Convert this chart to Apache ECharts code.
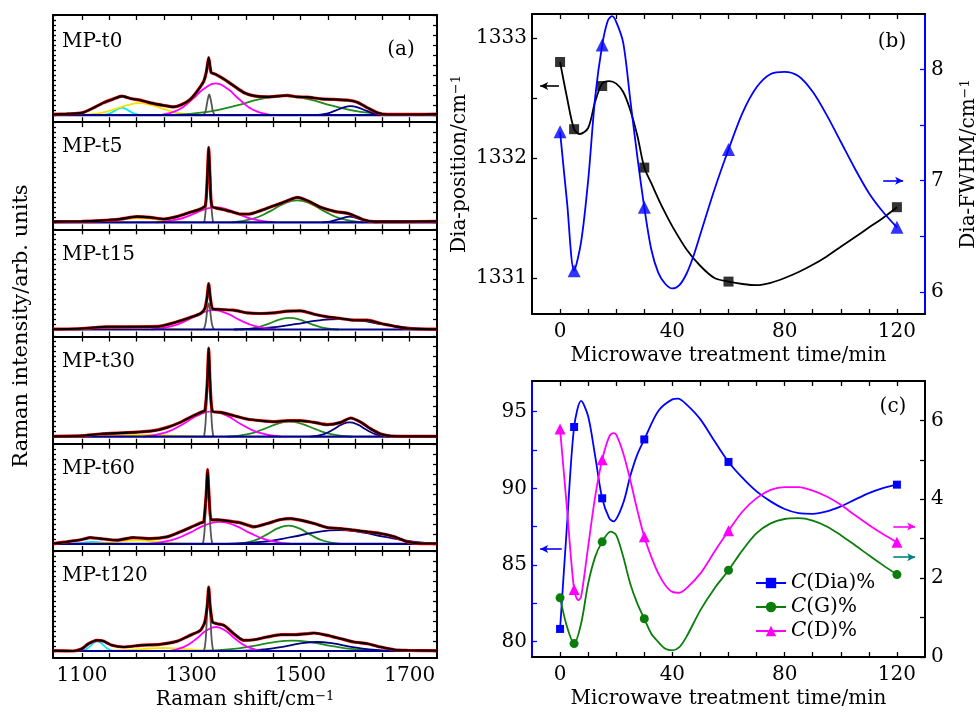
<!DOCTYPE html>
<html><head><meta charset="utf-8">
<script src="https://cdn.jsdelivr.net/npm/echarts@6/dist/echarts.min.js"></script>
<style>html,body{margin:0;padding:0;background:#fff}#c{width:980px;height:712px}</style>
</head><body><div id="c"></div><script>
// ---------------- Panel (a): Raman spectra ----------------
const panelNames = ['MP-t0','MP-t5','MP-t15','MP-t30','MP-t60','MP-t120'];
const ramanTicks = [1100,1150,1200,1250,1300,1350,1400,1450,1500,1550,1600,1650,1700];
const ramanLabels = [1100,1300,1500,1700];

const spec_t0 = [[1047,0.7],[1072,1.3],[1100,2.3],[1121,7.3],[1139,12.3],[1158,16.3],[1173,19],[1188,16.7],[1207,15],[1225,12.3],[1250,9.7],[1268,8.3],[1283,10.7],[1298,15.7],[1311,24],[1323,34],[1328,44],[1332,57.5],[1336.5,42.7],[1344,41],[1360,36],[1378,29.3],[1396,22.7],[1415,19.3],[1439,18.3],[1458,19],[1476,19.7],[1494,18.3],[1513,18],[1537,16.3],[1562,15.7],[1586,15],[1604,13],[1623,7.3],[1641,2.3],[1659,0.7],[1684,0.7],[1715,0.7],[1750,1]];
const spec_t5 = [[1047,0.7],[1100,1],[1133,1.7],[1170,3.3],[1201,5.7],[1225,5],[1250,3.3],[1274,5.7],[1298,10],[1317,13.3],[1326,17],[1329.5,45],[1332,75],[1334.5,45],[1338,16],[1354,13.3],[1372,11],[1390,8.3],[1406,8.3],[1427,11.7],[1452,16.7],[1476,21.7],[1494,25],[1513,21.7],[1537,15],[1562,11],[1586,9],[1598,6.7],[1617,2.3],[1635,0.7],[1684,0.7],[1750,1]];
const spec_t15 = [[1047,0.3],[1100,1],[1146,2.7],[1194,2.7],[1243,3.3],[1274,7.7],[1298,12],[1317,16],[1325,21],[1329,32],[1332,46],[1335,32],[1339,21],[1354,20],[1378,19.3],[1402,16.7],[1427,16],[1452,16.7],[1476,18.3],[1500,18.7],[1525,15.3],[1549,12.7],[1574,11],[1598,9.3],[1623,9.3],[1647,6],[1672,3.3],[1696,1],[1750,0.3]];
const spec_t30 = [[1047,0.3],[1100,1],[1133,2.7],[1194,4.3],[1231,6],[1256,9.3],[1280,14.3],[1304,21],[1318,24.5],[1325,26],[1329.5,55],[1332,88.7],[1334.5,55],[1339,25.3],[1354,24.3],[1378,21],[1402,17.7],[1427,16],[1452,15],[1476,16],[1500,16],[1525,14.3],[1549,12],[1574,14.3],[1592,18.7],[1611,14.3],[1629,7.7],[1647,2.7],[1666,0.7],[1750,0.3]];
const spec_t60 = [[1047,0.3],[1072,2],[1100,4.3],[1115,6.3],[1133,5.3],[1164,3.7],[1194,6.3],[1225,5.3],[1256,7],[1280,12],[1304,17.7],[1318,21],[1323,22],[1327.5,50],[1330,74.3],[1332.5,50],[1337,24],[1350,24],[1366,23],[1390,21],[1415,17],[1439,20.3],[1464,24.3],[1482,25.3],[1500,23.7],[1525,20.3],[1549,16.3],[1574,15.3],[1598,13.7],[1623,12],[1647,10.3],[1672,7],[1696,2],[1721,0.3],[1750,0.3]];
const spec_t120 = [[1047,0.3],[1084,0],[1100,2.3],[1112,7.3],[1127,10.7],[1139,10],[1155,5.7],[1176,4],[1207,5.7],[1243,6.7],[1274,9.7],[1298,15.7],[1317,20.7],[1325,29],[1329.5,46],[1332,64],[1334.5,46],[1339,29],[1347,27.3],[1360,25.7],[1378,17.3],[1396,10.7],[1415,11.3],[1439,14],[1464,16.3],[1488,16.3],[1513,17.3],[1525,18],[1549,15.7],[1574,12.3],[1598,9],[1623,7.3],[1647,4],[1672,1.3],[1696,0.7],[1750,0.3]];

// fitted components (cyan, yellow, gray = diamond, magenta = D, green = G, navy)
const t0_cyan = [[1137,0],[1149,1.3],[1158,3.8],[1166,6.3],[1173,7.5],[1180,6.3],[1188,3.8],[1197,1.3],[1209,0]];
const t0_yellow = [[1097,0],[1133,2],[1160,6],[1183,10],[1205,12],[1227,10],[1250,6],[1277,2],[1313,0]];
const t0_gray = [[1322,0],[1326,3.5],[1328.5,10.4],[1331,17.4],[1333,20.7],[1335,17.4],[1337.5,10.4],[1340,3.5],[1344,0]];
const t0_mag = [[1243,0],[1277,5.4],[1302,15.9],[1324,26.6],[1345,31.7],[1366,26.6],[1388,15.9],[1413,5.4],[1447,0]];
const t0_green = [[1260,0],[1330,3.2],[1382,9.5],[1426,16],[1470,19],[1514,16],[1558,9.5],[1610,3.2],[1680,0]];
const t0_navy = [[1526,0],[1548,1.5],[1564,4.5],[1578,7.6],[1592,9],[1606,7.6],[1620,4.5],[1636,1.5],[1658,0]];

const t5_yellow = [[1109,0],[1141,0.7],[1165,2],[1185,3.4],[1205,4],[1225,3.4],[1245,2],[1269,0.7],[1301,0]];
const t5_gray = [[1324,0],[1326.5,12.4],[1328.5,36.5],[1330.3,61.3],[1332,73],[1333.7,61.3],[1335.5,36.5],[1337.5,12.4],[1340,0]];
const t5_mag = [[1237,0],[1273,2.6],[1300,7.5],[1323,12.6],[1345,15],[1367,12.6],[1390,7.5],[1417,2.6],[1453,0]];
const t5_green = [[1374,0],[1414,3.7],[1444,11],[1469,18.5],[1494,22],[1519,18.5],[1544,11],[1574,3.7],[1614,0]];
const t5_navy = [[1540,0],[1556,1],[1569,2.9],[1580,4.8],[1590,5.7],[1600,4.8],[1611,2.9],[1624,1],[1640,0]];

const t15_yellow = [[1080,0],[1120,0.4],[1150,1.3],[1175,2.1],[1200,2.5],[1225,2.1],[1250,1.3],[1280,0.4],[1320,0]];
const t15_gray = [[1322.4,0],[1325.6,4.4],[1328,13],[1330,21.8],[1332,26],[1334,21.8],[1336,13],[1338.4,4.4],[1341.6,0]];
const t15_mag = [[1227,0],[1265,3.3],[1293.5,9.7],[1317,16.2],[1341,19.3],[1365,16.2],[1388.5,9.7],[1417,3.3],[1455,0]];
const t15_green = [[1390,0],[1420,2],[1442.5,5.9],[1461,9.8],[1480,11.7],[1499,9.8],[1517.5,5.9],[1540,2],[1570,0]];
const t15_navy = [[1378,0],[1442,1.8],[1490,5.3],[1530,8.8],[1570,10.5],[1610,8.8],[1650,5.3],[1698,1.8],[1750,0.2]];

const t30_yellow = [[1100,0],[1140,0.3],[1170,1],[1195,1.7],[1220,2],[1245,1.7],[1270,1],[1300,0.3],[1340,0]];
const t30_gray = [[1323.6,0],[1326.4,14.6],[1328.5,43],[1330.3,72.2],[1332,86],[1333.7,72.2],[1335.5,43],[1337.6,14.6],[1340.4,0]];
const t30_mag = [[1212,0],[1254,4.3],[1285.5,12.7],[1311.8,21.3],[1338,25.3],[1364.2,21.3],[1390.5,12.7],[1422,4.3],[1464,0]];
const t30_green = [[1366,0],[1404,2.6],[1432.5,7.5],[1456,12.6],[1480,15],[1504,12.6],[1527.5,7.5],[1556,2.6],[1594,0]];
const t30_navy = [[1518,0],[1542,2.4],[1560,7.2],[1575,12],[1590,14.3],[1605,12],[1620,7.2],[1638,2.4],[1662,0]];

const t60_cyan = [[1072,0],[1088,0.3],[1100,1],[1110,1.7],[1120,2],[1130,1.7],[1140,1],[1152,0.3],[1168,0]];
const t60_yellow = [[1092,0],[1128,0.6],[1155,1.8],[1177.5,2.9],[1200,3.5],[1222.5,2.9],[1245,1.8],[1272,0.6],[1308,0]];
const t60_gray = [[1321.6,0],[1324.4,12.6],[1326.5,37],[1328.3,62.2],[1330,74],[1331.7,62.2],[1333.5,37],[1335.6,12.6],[1338.4,0]];
const t60_mag = [[1220,0],[1264,3.7],[1297,11],[1324.5,18.5],[1352,22],[1379.5,18.5],[1407,11],[1440,3.7],[1484,0]];
const t60_green = [[1382,0],[1414,3.1],[1438,9.2],[1458,15.4],[1478,18.3],[1498,15.4],[1518,9.2],[1542,3.1],[1574,0]];
const t60_navy = [[1366,0],[1434,2.3],[1485,6.9],[1527.5,11.5],[1570,13.7],[1612.5,11.5],[1655,6.9],[1706,2.3],[1750,0.4]];

const t120_cyan = [[1097,0],[1107,1.6],[1115,4.9],[1121.5,8.1],[1128,9.7],[1134.5,8.1],[1141,4.9],[1149,1.6],[1159,0]];
const t120_yellow = [[1130,0],[1170,0.5],[1200,1.5],[1225,2.5],[1250,3],[1275,2.5],[1300,1.5],[1330,0.5],[1370,0]];
const t120_gray = [[1323.6,0],[1326.4,10.5],[1328.5,31],[1330.3,52],[1332,62],[1333.7,52],[1335.5,31],[1337.6,10.5],[1340.4,0]];
const t120_mag = [[1259,0],[1287,4.1],[1309,12],[1327,20.2],[1345,24],[1363,20.2],[1381,12],[1403,4.1],[1431,0]];
const t120_green = [[1317,0],[1373,1.8],[1415,5.2],[1450,8.7],[1485,10.3],[1520,8.7],[1555,5.2],[1597,1.8],[1653,0]];
const t120_navy = [[1386,0],[1434,1.5],[1470,4.5],[1500,7.6],[1530,9],[1560,7.6],[1590,4.5],[1626,1.5],[1674,0]];

const baseline = [[1047,0],[1750,0]];

// ---------------- Panel (b) ----------------
const timeMin = [0,5,15,30,60,120];
const diaPosition = [1332.8,1332.24,1332.6,1331.92,1330.97,1331.59];
const diaFWHM = [7.44,6.19,8.22,6.76,7.28,6.58];
const posCurve = [[0,1332.8],[2.5,1332.5],[5,1332.24],[7,1332.2],[10,1332.25],[12.5,1332.47],[15,1332.62],[17.5,1332.64],[20,1332.62],[22.5,1332.55],[25,1332.4],[27.5,1332.19],[30,1331.92],[32.5,1331.79],[35,1331.66],[37.5,1331.54],[40,1331.43],[45,1331.24],[50,1331.1],[55,1331.0],[60,1330.97],[65,1330.95],[70,1330.94],[75,1330.96],[80,1331.0],[85,1331.05],[90,1331.11],[95,1331.18],[100,1331.26],[105,1331.34],[110,1331.42],[115,1331.5],[120,1331.59]];
const fwhmCurve = [[0,7.44],[2.5,6.8],[5,6.19],[7.5,6.45],[10,7.0],[12.5,7.75],[15,8.22],[17,8.44],[18.5,8.48],[20,8.43],[22.5,8.24],[25,7.73],[27.5,7.22],[30,6.76],[32.5,6.38],[35,6.17],[37.5,6.07],[40,6.03],[42.5,6.06],[45,6.16],[47.5,6.32],[50,6.52],[55,6.92],[60,7.28],[65,7.61],[70,7.84],[75,7.96],[80,7.98],[85,7.94],[90,7.8],[95,7.59],[100,7.35],[105,7.11],[110,6.89],[115,6.72],[120,6.58]];

// ---------------- Panel (c) ----------------
const cDia = [80.83,94.0,89.35,93.19,91.72,90.24];
const cG = [1.50,0.34,2.92,0.97,2.20,2.09];
const cD = [5.78,1.71,5.0,3.05,3.2,2.91];
const diaCurve = [[0,80.83],[2.5,87.7],[5,94.0],[7.5,95.7],[10,94.7],[12.5,92.1],[15,89.35],[17.5,88.06],[19,87.84],[22.5,89.04],[25,90.8],[27.5,92.2],[30,93.19],[35,95.04],[40,95.8],[42,95.85],[45,95.48],[50,94.5],[55,93.08],[60,91.72],[65,90.68],[70,89.8],[75,89.15],[80,88.65],[85,88.38],[90,88.34],[95,88.49],[100,88.82],[105,89.26],[110,89.69],[115,90.02],[120,90.24]];
const gCurve = [[0,1.5],[2.5,0.76],[5,0.34],[7.5,0.85],[10,1.86],[12.5,2.54],[15,2.92],[18,3.18],[20,3.09],[22.5,2.54],[25,1.86],[27.5,1.36],[30,0.97],[32.5,0.59],[35,0.38],[37.5,0.21],[40,0.17],[42.5,0.25],[45,0.51],[50,1.19],[55,1.74],[60,2.2],[65,2.71],[70,3.14],[75,3.39],[80,3.5],[85,3.52],[90,3.46],[95,3.31],[100,3.09],[105,2.84],[110,2.58],[115,2.33],[120,2.09]];
const dCurve = [[0,5.78],[2.5,3.73],[5,1.71],[6.5,1.44],[7.5,1.53],[10,2.8],[12.5,4.07],[15,5.0],[17.5,5.59],[19,5.68],[20,5.64],[22.5,5.17],[25,4.49],[27.5,3.73],[30,3.05],[32.5,2.54],[35,2.12],[37.5,1.82],[40,1.65],[42.5,1.63],[45,1.74],[50,2.12],[55,2.67],[60,3.2],[65,3.69],[70,4.03],[75,4.24],[80,4.31],[85,4.31],[90,4.22],[95,4.07],[100,3.86],[105,3.6],[110,3.35],[115,3.12],[120,2.91]];

// ---------------- build ----------------
const FF = 'DejaVu Serif';
const C = {gray:'#555555', mag:'#ff00ff', green:'#1f8a1f', navy:'#000080', yellow:'#f2e600', cyan:'#00e8ff', red:'#ff0000'};
const spectra = [spec_t0,spec_t5,spec_t15,spec_t30,spec_t60,spec_t120];
const comps = [
  [[t0_cyan,C.cyan],[t0_yellow,C.yellow],[t0_green,C.green],[t0_navy,C.navy],[t0_mag,C.mag],[t0_gray,C.gray]],
  [[t5_yellow,C.yellow],[t5_green,C.green],[t5_navy,C.navy],[t5_mag,C.mag],[t5_gray,C.gray]],
  [[t15_yellow,C.yellow],[t15_green,C.green],[t15_navy,C.navy],[t15_mag,C.mag],[t15_gray,C.gray]],
  [[t30_yellow,C.yellow],[t30_green,C.green],[t30_navy,C.navy],[t30_mag,C.mag],[t30_gray,C.gray]],
  [[t60_cyan,C.cyan],[t60_yellow,C.yellow],[t60_green,C.green],[t60_navy,C.navy],[t60_mag,C.mag],[t60_gray,C.gray]],
  [[t120_cyan,C.cyan],[t120_yellow,C.yellow],[t120_green,C.green],[t120_navy,C.navy],[t120_mag,C.mag],[t120_gray,C.gray]]
];

const A_LEFT = 53, A_W = 384, A_TOP = 15, A_H = 107.17, Y_MIN = -7, Y_MAX = 100.17;
const grid = [], xAxis = [], yAxis = [], series = [], graphic = [];
const tickStyle = {color:'#000', width:1.3};
const lab = (size) => ({fontFamily:FF, fontSize:size, color:'#000'});
const supRich = {b:{fontFamily:FF, fontSize:20, color:'#000'}, s:{fontFamily:FF, fontSize:13, color:'#000', verticalAlign:'top', padding:[0,0,6,0]}};

for (let i = 0; i < 6; i++) {
  const top = A_TOP + i * A_H;
  grid.push({left:A_LEFT, top:top, width:A_W, height:A_H});
  xAxis.push({type:'value', gridIndex:i, min:1047, max:1750, position:'bottom',
    axisLine:{show:true, onZero:false, lineStyle:{color:'#000', width:2}},
    axisTick:{show:true, inside:true, length:5, customValues:ramanTicks, lineStyle:tickStyle},
    axisLabel:{show:i===5, customValues:ramanLabels, formatter:v=>String(v), margin:8, ...lab(20)},
    splitLine:{show:false},
    name: i===5 ? '{b|Raman shift/cm}{s|−1}' : '', nameLocation:'middle', nameGap:32,
    nameTextStyle:{...lab(20), rich:supRich}});
  xAxis.push({type:'value', gridIndex:i, min:1047, max:1750, position:'top',
    axisLine:{show:true, onZero:false, lineStyle:{color:'#000', width:2}},
    axisTick:{show:true, inside:true, length:5, customValues:ramanTicks, lineStyle:tickStyle},
    axisLabel:{show:false}, splitLine:{show:false}});
  yAxis.push({type:'value', gridIndex:i, min:Y_MIN, max:Y_MAX, position:'left',
    axisLine:{show:true, onZero:false, lineStyle:{color:'#000', width:2}},
    axisTick:{show:true, inside:true, length:3, customValues:[0,5,10,15,20,25,30,35,40,45,50,55,60,65,70,75,80,85,90,95,100], lineStyle:tickStyle},
    axisLabel:{show:false}, splitLine:{show:false}});
  yAxis.push({type:'value', gridIndex:i, min:Y_MIN, max:Y_MAX, position:'right',
    axisLine:{show:true, onZero:false, lineStyle:{color:'#000', width:2}},
    axisTick:{show:true, inside:true, length:4, customValues:[0,10,20,30,40,50,60,70,80,90,100], lineStyle:tickStyle},
    axisLabel:{show:false}, splitLine:{show:false}});
  comps[i].forEach(([d,col]) => series.push({type:'line', xAxisIndex:2*i, yAxisIndex:2*i, data:d, smooth:0.5, showSymbol:false, symbol:'none', lineStyle:{color:col, width:1.8}, z:2, silent:true}));
  series.push({type:'line', xAxisIndex:2*i, yAxisIndex:2*i, data:baseline, showSymbol:false, symbol:'none', lineStyle:{color:'#00008b', width:2.2}, z:3, silent:true});
  series.push({type:'line', xAxisIndex:2*i, yAxisIndex:2*i, data:spectra[i], smooth:0.2, showSymbol:false, symbol:'none', lineStyle:{color:C.red, width:3.2}, z:4, silent:true});
  series.push({type:'line', xAxisIndex:2*i, yAxisIndex:2*i, data:spectra[i], smooth:0.2, showSymbol:false, symbol:'none', lineStyle:{color:'#000', width:2.1}, z:5, silent:true});
  graphic.push({type:'text', x:62, y: top + (i===0 ? 27 : 25), style:{text:panelNames[i], font:'20px "DejaVu Serif"', fill:'#000', align:'left', verticalAlign:'middle'}});
}
graphic.push({type:'text', x:401, y:50, style:{text:'(a)', font:'20px "DejaVu Serif"', fill:'#000', align:'center', verticalAlign:'middle'}});
graphic.push({type:'text', x:22, y:326, rotation:Math.PI/2, style:{text:'Raman intensity/arb. units', font:'21px "DejaVu Serif"', fill:'#000', align:'center', verticalAlign:'middle'}});

// Panel (b) grid 6, (c) grid 7
grid.push({left:532, top:14, width:393, height:300});
grid.push({left:532, top:381, width:393, height:276});
const timeTicks = [0,10,20,30,40,50,60,70,80,90,100,110,120];
function timeAxes(g) {
  xAxis.push({type:'value', gridIndex:g, min:-10, max:130, position:'bottom',
    axisLine:{show:true, onZero:false, lineStyle:{color:'#000', width:2}},
    axisTick:{show:true, inside:true, length:5, customValues:timeTicks, lineStyle:tickStyle},
    axisLabel:{customValues:[0,40,80,120], formatter:v=>String(v), margin:8, ...lab(20)},
    splitLine:{show:false},
    name:'Microwave treatment time/min', nameLocation:'middle', nameGap:32, nameTextStyle:lab(20)});
  xAxis.push({type:'value', gridIndex:g, min:-10, max:130, position:'top',
    axisLine:{show:true, onZero:false, lineStyle:{color:'#000', width:2}},
    axisTick:{show:true, inside:true, length:5, customValues:timeTicks, lineStyle:tickStyle},
    axisLabel:{show:false}, splitLine:{show:false}});
}
timeAxes(6); // xAxis 12,13
timeAxes(7); // xAxis 14,15

// (b) y axes: 12 left, 13 right
yAxis.push({type:'value', gridIndex:6, min:1330.7, max:1333.2, position:'left',
  axisLine:{show:true, onZero:false, lineStyle:{color:'#000', width:2}},
  axisTick:{show:true, inside:true, length:5, customValues:[1331,1331.5,1332,1332.5,1333], lineStyle:tickStyle},
  axisLabel:{customValues:[1331,1332,1333], formatter:v=>String(v), margin:5, ...lab(20)},
  splitLine:{show:false},
  name:'{b|Dia-position/cm}{s|−1}', nameLocation:'middle', nameRotate:90, nameGap:62, nameTextStyle:{...lab(20), rich:supRich}});
yAxis.push({type:'value', gridIndex:6, min:5.8, max:8.5, position:'right',
  axisLine:{show:true, onZero:false, lineStyle:{color:'#0000ff', width:2}},
  axisTick:{show:true, inside:true, length:5, customValues:[6,6.5,7,7.5,8], lineStyle:{color:'#0000ff', width:1.3}},
  axisLabel:{customValues:[6,7,8], formatter:v=>String(v), margin:6, ...lab(20)},
  splitLine:{show:false},
  name:'{b|Dia-FWHM/cm}{s|−1}', nameLocation:'middle', nameRotate:90, nameGap:34, nameTextStyle:{...lab(20), rich:supRich}});
// (c) y axes: 14 left, 15 right
yAxis.push({type:'value', gridIndex:7, min:79, max:97, position:'left',
  axisLine:{show:true, onZero:false, lineStyle:{color:'#0000ff', width:2}},
  axisTick:{show:true, inside:true, length:5, customValues:[80,82.5,85,87.5,90,92.5,95], lineStyle:{color:'#0000ff', width:1.3}},
  axisLabel:{customValues:[80,85,90,95], formatter:v=>String(v), margin:5, ...lab(20)},
  splitLine:{show:false}});
yAxis.push({type:'value', gridIndex:7, min:0, max:7, position:'right',
  axisLine:{show:true, onZero:false, lineStyle:{color:'#000', width:2}},
  axisTick:{show:true, inside:true, length:5, customValues:[0,1,2,3,4,5,6], lineStyle:tickStyle},
  axisLabel:{customValues:[0,2,4,6], formatter:v=>String(v), margin:6, ...lab(20)},
  splitLine:{show:false}});

const pts = (arr) => timeMin.map((t,i)=>[t,arr[i]]);
const arrowLine = (color, from, to, head) => ({silent:true, symbol: head==='start' ? ['arrow','none'] : ['none','arrow'], symbolSize:[6,8],
  lineStyle:{color:color, width:1.6, type:'solid'}, label:{show:false}, emphasis:{disabled:true},
  data:[[{coord:from},{coord:to}]]});

// (b) series
series.push({type:'line', xAxisIndex:12, yAxisIndex:12, data:posCurve, smooth:0.3, showSymbol:false, symbol:'none', lineStyle:{color:'#000', width:1.8}, z:3,
  markLine: arrowLine('#000', [-7.1,1332.6], [-0.4,1332.6], 'start')});
series.push({type:'line', xAxisIndex:12, yAxisIndex:13, data:fwhmCurve, smooth:0.3, showSymbol:false, symbol:'none', lineStyle:{color:'#0000ff', width:1.8}, z:3,
  markLine: arrowLine('#0000ff', [115.1,7.0], [122.2,7.0], 'end')});
series.push({type:'scatter', xAxisIndex:12, yAxisIndex:12, data:pts(diaPosition), symbol:'rect', symbolSize:10, itemStyle:{color:'#000'}, z:6});
series.push({type:'scatter', xAxisIndex:12, yAxisIndex:13, data:pts(diaFWHM), symbol:'triangle', symbolSize:13, itemStyle:{color:'#0000ff'}, z:6});

// (c) series
series.push({type:'line', xAxisIndex:14, yAxisIndex:14, data:diaCurve, smooth:0.3, showSymbol:false, symbol:'none', lineStyle:{color:'#0000ff', width:1.8}, z:3,
  markLine: arrowLine('#0000ff', [-7.1,86.05], [0.6,86.05], 'start')});
series.push({type:'line', xAxisIndex:14, yAxisIndex:15, data:gCurve, smooth:0.3, showSymbol:false, symbol:'none', lineStyle:{color:'#0a7d0a', width:1.8}, z:3,
  markLine: arrowLine('#008080', [118.7,2.53], [126.5,2.53], 'end')});
series.push({type:'line', xAxisIndex:14, yAxisIndex:15, data:dCurve, smooth:0.3, showSymbol:false, symbol:'none', lineStyle:{color:'#ff00ff', width:1.8}, z:3,
  markLine: arrowLine('#ff00ff', [118.7,3.31], [126.5,3.31], 'end')});
series.push({type:'line', name:'C(Dia)%', xAxisIndex:14, yAxisIndex:14, data:pts(cDia), symbol:'rect', symbolSize:8, itemStyle:{color:'#0000ff'}, lineStyle:{color:'#0000ff', opacity:0}, z:6});
series.push({type:'line', name:'C(G)%', xAxisIndex:14, yAxisIndex:15, data:pts(cG), symbol:'circle', symbolSize:9, itemStyle:{color:'#0a7d0a'}, lineStyle:{color:'#0a7d0a', opacity:0}, z:6});
series.push({type:'line', name:'C(D)%', xAxisIndex:14, yAxisIndex:15, data:pts(cD), symbol:'triangle', symbolSize:11, itemStyle:{color:'#ff00ff'}, lineStyle:{color:'#ff00ff', opacity:0}, z:6});

graphic.push({type:'text', x:892, y:42, style:{text:'(b)', font:'20px "DejaVu Serif"', fill:'#000', align:'center', verticalAlign:'middle'}});
graphic.push({type:'text', x:893, y:407, style:{text:'(c)', font:'20px "DejaVu Serif"', fill:'#000', align:'center', verticalAlign:'middle'}});

const chart = echarts.init(document.getElementById('c'), null, {renderer:'canvas'});
chart.setOption({
  animation:false,
  backgroundColor:'#fff',
  grid, xAxis, yAxis, series, graphic,
  legend:{data:['C(Dia)%','C(G)%','C(D)%'], orient:'vertical', left:750, top:568, itemWidth:30, itemHeight:13, itemGap:4,
    selectedMode:false, formatter: n => '{i|C}' + n.slice(1),
    textStyle:{fontFamily:FF, fontSize:20, color:'#000', rich:{i:{fontFamily:FF, fontSize:20, fontStyle:'italic', color:'#000'}}},
    lineStyle:{width:2, opacity:1}}
});
</script></body></html>
